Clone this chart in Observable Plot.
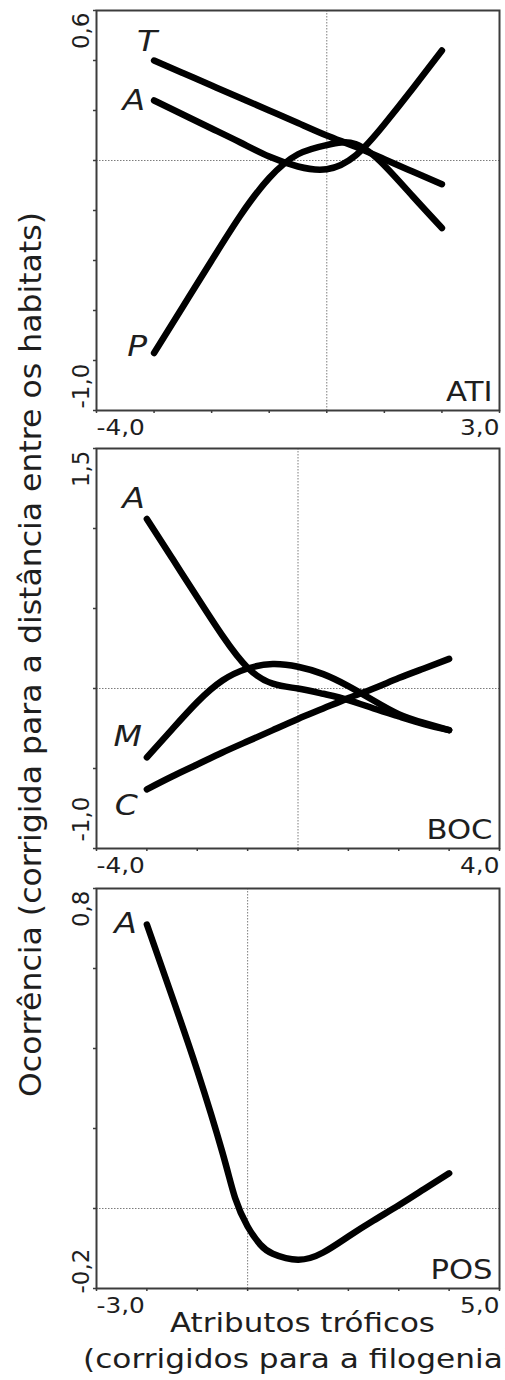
<!DOCTYPE html>
<html lang="pt">
<head>
<meta charset="utf-8">
<script src="https://cdn.jsdelivr.net/npm/d3@7"></script>
<script src="https://cdn.jsdelivr.net/npm/@observablehq/plot@0.6"></script>
<style>
html, body { margin: 0; padding: 0; background: #fff; overflow: hidden; }
#chart { position: relative; width: 505px; height: 1380px; font-family: "DejaVu Sans", Verdana, sans-serif; color: #1e1e1e; }
#chart > svg { position: absolute; left: 0; }
</style>
</head>
<body>
<div id="chart"></div>
<script>
// ---------------- data ----------------
// Panel ATI
const atiX = [-3, -2.5, -2, -1.5, -1, -0.5, 0, 0.5, 1, 1.5, 2];
const atiT = [0.40, 0.35, 0.30, 0.25, 0.20, 0.15, 0.10, 0.055, 0.005, -0.045, -0.095];
const atiA = [0.24, 0.184, 0.128, 0.072, 0.016, -0.024, -0.035, 0.02, 0.145, 0.29, 0.44];
const atiP = [-0.77, -0.585, -0.40, -0.22, -0.07, 0.025, 0.062, 0.066, -0.02, -0.145, -0.27];
const atiXTicks = [-4, -3, -2, -1, 0, 1, 2, 3];
const atiYTicks = [-1, -0.8, -0.6, -0.4, -0.2, 0, 0.2, 0.4, 0.6];

// Panel BOC
const bocX = [-3, -2.5, -2, -1.5, -1, -0.5, 0, 0.5, 1, 1.5, 2, 2.5, 3];
const bocA = [1.06, 0.815, 0.57, 0.33, 0.13, 0.03, 0.0, -0.033, -0.072, -0.125, -0.175, -0.222, -0.26];
const bocM = [-0.43, -0.255, -0.085, 0.05, 0.125, 0.153, 0.136, 0.09, 0.015, -0.075, -0.16, -0.215, -0.26];
const bocC = [-0.63, -0.55, -0.475, -0.40, -0.33, -0.26, -0.19, -0.125, -0.06, 0.0, 0.065, 0.125, 0.185];
const bocXTicks = [-4, -3, -2, -1, 0, 1, 2, 3, 4];
const bocYTicks = [-1, -0.5, 0, 0.5, 1, 1.5];

// Panel POS
const posX = [-2, -1.5, -1, -0.5, -0.25, 0, 0.25, 0.5, 1, 1.5, 2, 2.5, 3, 3.5, 4];
const posA = [0.71, 0.53, 0.345, 0.14, 0.027, -0.045, -0.09, -0.113, -0.128, -0.11, -0.07, -0.03, 0.008, 0.048, 0.088];
const posXTicks = [-3, -2, -1, 0, 1, 2, 3, 4, 5];
const posYTicks = [-0.2, 0, 0.2, 0.4, 0.6, 0.8];

const panelNames = ["ATI", "BOC", "POS"];
const yTitle = "Ocorrência (corrigida para a distância entre os habitats)";
const xTitle1 = "Atributos tróficos";
const xTitle2 = "(corrigidos para a filogenia)";

// ---------------- drawing ----------------
const FONT = '"DejaVu Sans", Verdana, sans-serif';
const INK = "#1e1e1e", FRAME = "#3c3c3c", GUIDE = "#7c7c7c";
const fmt = d => d.toFixed(1).replace(".", ",");

function panel(cfg) {
  const [x0, x1] = [cfg.xTicks[0], cfg.xTicks[cfg.xTicks.length - 1]];
  const [y0, y1] = [cfg.yTicks[0], cfg.yTicks[cfg.yTicks.length - 1]];
  const rows = cfg.series.flatMap(s => cfg.xs.map((x, i) => ({x, y: s.y[i], key: s.key})));
  const marks = [
    Plot.ruleX([0], {stroke: GUIDE, strokeWidth: 1, strokeDasharray: "1.5,1.5"}),
    Plot.ruleY([0], {stroke: GUIDE, strokeWidth: 1, strokeDasharray: "1.5,1.5"}),
    Plot.line(rows, {x: "x", y: "y", z: "key", stroke: "#000", strokeWidth: 6.5,
      curve: "natural", strokeLinecap: "round", strokeLinejoin: "round"}),
    Plot.frame({stroke: FRAME, strokeWidth: 2}),
    Plot.axisX(cfg.xTicks, {tickSize: 3, tickFormat: () => "", stroke: FRAME, strokeWidth: 1.5, label: null}),
    Plot.axisY(cfg.yTicks, {tickSize: 3, tickFormat: () => "", stroke: FRAME, strokeWidth: 1.5, label: null}),
    Plot.axisX([x0], {tickSize: 0, tickPadding: 10, textAnchor: "start", fontSize: 21, fill: INK, tickFormat: fmt, label: null}),
    Plot.axisX([x1], {tickSize: 0, tickPadding: 10, textAnchor: "end", fontSize: 21, fill: INK, tickFormat: fmt, label: null}),
    Plot.axisY([y1], {tickSize: 0, tickPadding: 8, tickRotate: -90, textAnchor: "end", lineAnchor: "bottom",
      dy: 2, fontSize: 23, fill: INK, tickFormat: fmt, label: null}),
    Plot.axisY([y0], {tickSize: 0, tickPadding: 8, tickRotate: -90, textAnchor: "start", lineAnchor: "bottom",
      dy: cfg.lowDy, fontSize: 23, fill: INK, tickFormat: fmt, label: null}),
    ...cfg.series.map(s => Plot.text([s], {
      x: () => cfg.xs[0], y: d => d.y[0], text: d => d.key,
      textAnchor: "end", lineAnchor: "middle", fontStyle: "italic", fontSize: 28, fill: INK,
      dx: s.dx, dy: s.dy
    })),
    Plot.text([cfg.name], {frameAnchor: "bottom-right", text: d => d, textAnchor: "end", lineAnchor: "bottom",
      dx: -7, dy: -10, fontSize: 26, fill: INK})
  ];
  return Plot.plot({
    width: 505, height: 440,
    marginTop: 10, marginBottom: 30, marginLeft: 96, marginRight: 6,
    x: {domain: [x0, x1], label: null},
    y: {domain: [y0, y1], label: null},
    style: {fontFamily: FONT, background: "transparent", color: INK},
    marks
  });
}

const root = document.getElementById("chart");

const p1 = panel({
  name: panelNames[0], xs: atiX, xTicks: atiXTicks, yTicks: atiYTicks, lowDy: -2,
  series: [
    {key: "T", y: atiT, dx: 3, dy: -18},
    {key: "A", y: atiA, dx: -9, dy: 1},
    {key: "P", y: atiP, dx: -7, dy: -6}
  ]
});
const p2 = panel({
  name: panelNames[1], xs: bocX, xTicks: bocXTicks, yTicks: bocYTicks, lowDy: -7,
  series: [
    {key: "A", y: bocA, dx: -2, dy: -20},
    {key: "M", y: bocM, dx: -5, dy: -20},
    {key: "C", y: bocC, dx: -9, dy: 17}
  ]
});
const p3 = panel({
  name: panelNames[2], xs: posX, xTicks: posXTicks, yTicks: posYTicks, lowDy: 5,
  series: [
    {key: "A", y: posA, dx: -10, dy: 0}
  ]
});

[[p1, 0], [p2, 438], [p3, 878]].forEach(([svg, top]) => {
  svg.style.top = top + "px";
  svg.style.position = "absolute";
  root.appendChild(svg);
});

// the reference glyphs are drawn slightly wide: widen horizontal texts
[p1, p2, p3].forEach(svg => {
  svg.querySelectorAll("text").forEach(t => {
    const s = t.textContent.trim();
    if (!s) return;
    const tr = t.getAttribute("transform") || "";
    if (tr.includes("rotate")) return;
    const w = t.getComputedTextLength();
    t.setAttribute("textLength", (w * 1.18).toFixed(1));
    t.setAttribute("lengthAdjust", "spacingAndGlyphs");
  });
});

// titles
const over = d3.create("svg")
  .attr("width", 505).attr("height", 1380)
  .attr("font-family", FONT).attr("fill", INK)
  .style("top", "0px").style("pointer-events", "none");
over.append("text")
  .attr("transform", "translate(41,654.5) rotate(-90)")
  .attr("text-anchor", "middle").attr("font-size", 31)
  .attr("textLength", 885).attr("lengthAdjust", "spacingAndGlyphs")
  .text(yTitle);
over.append("text")
  .attr("x", 302.5).attr("y", 1332)
  .attr("text-anchor", "middle").attr("font-size", 27)
  .attr("textLength", 265).attr("lengthAdjust", "spacingAndGlyphs")
  .text(xTitle1);
over.append("text")
  .attr("x", 83).attr("y", 1368)
  .attr("font-size", 27)
  .attr("textLength", 432).attr("lengthAdjust", "spacingAndGlyphs")
  .text(xTitle2);
root.appendChild(over.node());
</script>
</body>
</html>
